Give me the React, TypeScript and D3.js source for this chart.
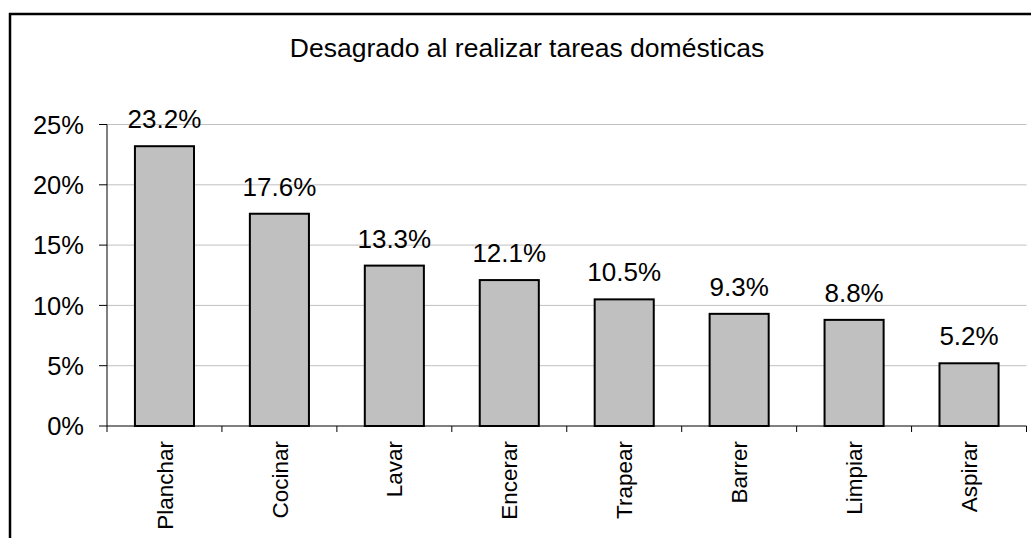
import React from "react";
import * as d3 from "d3";

const categories = ["Planchar", "Cocinar", "Lavar", "Encerar", "Trapear", "Barrer", "Limpiar", "Aspirar"];
const values = [23.2, 17.6, 13.3, 12.1, 10.5, 9.3, 8.8, 5.2];
const yTicks = [0, 5, 10, 15, 20, 25];
const title = "Desagrado al realizar tareas domésticas";

const W = 1031;
const H = 538;
const plot = { left: 107, right: 1026.5, top: 124.5, bottom: 426 };
const FONT = "'Liberation Sans', Arial, sans-serif";

export default function App() {
  const x = d3
    .scaleBand<string>()
    .domain(categories)
    .range([plot.left, plot.right])
    .paddingInner(0.486)
    .paddingOuter(0.243);
  const y = d3.scaleLinear().domain([0, 25]).range([plot.bottom, plot.top]);
  const step = x.step();

  return (
    <svg
      width={W}
      height={H}
      style={{ position: "fixed", left: 0, top: 0, background: "#fff" }}
      fontFamily={FONT}
    >
      <rect x={0} y={0} width={W} height={H} fill="#fff" />
      <rect x={10} y={14} width={1100} height={700} fill="none" stroke="#000" strokeWidth={2.5} />
      <text x={527} y={57} textAnchor="middle" fontSize={26.5} fill="#000">
        {title}
      </text>
      {yTicks.map((t) => (
        <g key={t}>
          {t > 0 && (
            <line x1={plot.left} x2={plot.right} y1={y(t)} y2={y(t)} stroke="#c0c0c0" strokeWidth={1} />
          )}
          <line x1={plot.left - 8} x2={plot.left} y1={y(t)} y2={y(t)} stroke="#000" strokeWidth={1} />
          <text x={84} y={y(t)} dy="0.36em" textAnchor="end" fontSize={25.5} fill="#000">
            {t}%
          </text>
        </g>
      ))}
      {categories.map((c, i) => (
        <g key={c}>
          <rect
            x={x(c)!}
            y={y(values[i])}
            width={x.bandwidth()}
            height={plot.bottom - y(values[i])}
            fill="#c0c0c0"
            stroke="#000"
            strokeWidth={2}
          />
          <text
            x={x(c)! + x.bandwidth() / 2}
            y={y(values[i]) - 18}
            textAnchor="middle"
            fontSize={26}
            fill="#000"
          >
            {values[i].toFixed(1)}%
          </text>
          <text
            transform={`translate(${x(c)! + x.bandwidth() / 2},441) rotate(-90)`}
            dy="0.36em"
            textAnchor="end"
            fontSize={22.5}
            fill="#000"
          >
            {c}
          </text>
        </g>
      ))}
      <line x1={plot.left} x2={plot.left} y1={plot.top} y2={plot.bottom} stroke="#000" strokeWidth={1} />
      <line x1={plot.left} x2={plot.right} y1={plot.bottom} y2={plot.bottom} stroke="#000" strokeWidth={1} />
      {d3.range(categories.length + 1).map((i) => (
        <line
          key={i}
          x1={plot.left + i * step}
          x2={plot.left + i * step}
          y1={plot.bottom}
          y2={plot.bottom + 6}
          stroke="#000"
          strokeWidth={1}
        />
      ))}
    </svg>
  );
}
